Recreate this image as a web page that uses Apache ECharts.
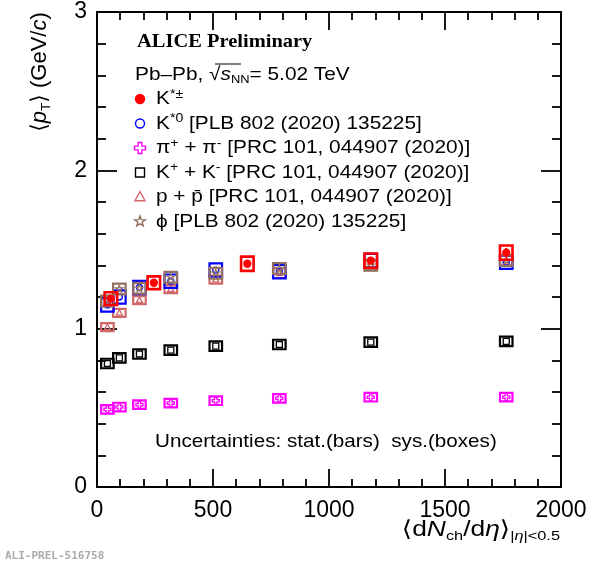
<!DOCTYPE html>
<html><head><meta charset="utf-8">
<script src="https://cdn.jsdelivr.net/npm/echarts/dist/echarts.min.js"></script>
<style>html,body{margin:0;padding:0;background:#fff}#c{width:604px;height:562px}</style>
</head><body><div id="c"></div>
<script>
// ---------------- data ----------------
const xTickValues = [0, 500, 1000, 1500, 2000];
const yTickValues = [0, 1, 2, 3];

const dNchPID = [44.9, 96.3, 183, 318, 512, 786, 1180, 1764];
const dNchKstarCh = [60, 245, 648, 1180, 1764];

const ptPion = [0.49, 0.505, 0.52, 0.53, 0.545, 0.56, 0.567, 0.568];
const sysPion = [0.027, 0.027, 0.027, 0.027, 0.027, 0.027, 0.027, 0.027];
const statPion = [0, 0, 0, 0, 0, 0, 0, 0];

const ptKaon = [0.78, 0.815, 0.84, 0.865, 0.89, 0.90, 0.915, 0.92];
const sysKaon = [0.03, 0.03, 0.03, 0.03, 0.03, 0.03, 0.03, 0.03];
const statKaon = [0, 0, 0, 0, 0, 0, 0, 0];

const ptProton = [1.01, 1.10, 1.18, 1.25, 1.31, 1.35, 1.40, 1.43];
const sysProton = [0.025, 0.025, 0.025, 0.025, 0.025, 0.03, 0.03, 0.03];
const statProton = [0, 0, 0, 0, 0, 0, 0, 0];

const ptKstar0 = [1.15, 1.20, 1.26, 1.30, 1.37, 1.36, 1.43, 1.42];
const sysKstar0 = [0.042, 0.042, 0.042, 0.042, 0.042, 0.042, 0.042, 0.042];
const statKstar0 = [0, 0, 0, 0, 0, 0, 0, 0];

const ptPhi = [1.175, 1.25, 1.255, 1.325, 1.35, 1.38, 1.40, 1.43];
const sysPhi = [0.034, 0.034, 0.034, 0.034, 0.034, 0.034, 0.034, 0.034];
const statPhi = [0, 0, 0, 0, 0, 0, 0, 0];

const ptKstarCh = [1.19, 1.29, 1.41, 1.43, 1.48];
const sysKstarCh = [0.04, 0.04, 0.045, 0.045, 0.045];
const statKstarCh = [0.01, 0.01, 0.012, 0.02, 0.03];

// ---------------- styling ----------------
const BOX_HW = 27; // half width of systematic boxes (x units)
const SANS = '"Liberation Sans", Arial, "DejaVu Sans", sans-serif';
const SERIF = '"Liberation Serif", "Times New Roman", serif';

function markerShape(kind, cx, cy, size, color, filled, lw) {
  const fill = filled ? color : 'none';
  const style = { fill: fill, stroke: color, lineWidth: lw };
  const h = size / 2;
  if (kind === 'circle') return { type: 'circle', shape: { cx, cy, r: h }, style };
  if (kind === 'square') return { type: 'rect', shape: { x: cx - h, y: cy - h, width: size, height: size }, style };
  if (kind === 'triangle') return { type: 'polygon', shape: { points: [[cx, cy - h * 1.1], [cx + h, cy + h * 0.75], [cx - h, cy + h * 0.75]] }, style };
  if (kind === 'cross') {
    const t = size / 6;
    return { type: 'polygon', shape: { points: [
      [cx - t, cy - h], [cx + t, cy - h], [cx + t, cy - t], [cx + h, cy - t], [cx + h, cy + t], [cx + t, cy + t],
      [cx + t, cy + h], [cx - t, cy + h], [cx - t, cy + t], [cx - h, cy + t], [cx - h, cy - t], [cx - t, cy - t]] }, style };
  }
  if (kind === 'star') {
    const pts = [];
    for (let k = 0; k < 10; k++) {
      const r = (k % 2 === 0) ? h * 1.1 : h * 0.45;
      const a = -Math.PI / 2 + k * Math.PI / 5;
      pts.push([cx + r * Math.cos(a), cy + r * Math.sin(a)]);
    }
    return { type: 'polygon', shape: { points: pts }, style };
  }
}

function makeSeries(name, xs, ys, sys, stat, color, kind, filled, mSize, boxLw) {
  return {
    type: 'custom', name: name, xAxisIndex: 0, yAxisIndex: 0,
    data: xs.map((x, i) => [x, ys[i], sys[i], stat[i]]),
    renderItem: function (params, api) {
      const x = api.value(0), y = api.value(1), s = api.value(2), st = api.value(3);
      const c = api.coord([x, y]);
      const top = api.coord([x, y + s])[1], bot = api.coord([x, y - s])[1];
      const left = api.coord([x - BOX_HW, y])[0], right = api.coord([x + BOX_HW, y])[0];
      const children = [{
        type: 'rect', shape: { x: left, y: top, width: right - left, height: bot - top },
        style: { fill: 'none', stroke: color, lineWidth: boxLw }
      }];
      if (st > 0) {
        const t2 = api.coord([x, y + st])[1], b2 = api.coord([x, y - st])[1];
        children.push({ type: 'line', shape: { x1: c[0], y1: t2, x2: c[0], y2: b2 }, style: { stroke: color, lineWidth: 2 } });
      }
      children.push(markerShape(kind, c[0], c[1], mSize, color, filled, 1.3));
      return { type: 'group', children: children };
    }
  };
}

const C_PION = '#ff00ff', C_KAON = '#000000', C_PROTON = '#d06868', C_KST0 = '#0000ff', C_PHI = '#93705f', C_KSTCH = '#ff0000';

const series = [
  makeSeries('pi', dNchPID, ptPion, sysPion, statPion, C_PION, 'cross', false, 7, 2.2),
  makeSeries('K', dNchPID, ptKaon, sysKaon, statKaon, C_KAON, 'square', false, 6, 2.2),
  makeSeries('p', dNchPID, ptProton, sysProton, statProton, C_PROTON, 'triangle', false, 6, 2.2),
  makeSeries('Kst0', dNchPID, ptKstar0, sysKstar0, statKstar0, C_KST0, 'circle', false, 6, 2.2),
  makeSeries('phi', dNchPID, ptPhi, sysPhi, statPhi, C_PHI, 'star', false, 7, 2.2),
  makeSeries('Kstch', dNchKstarCh, ptKstarCh, sysKstarCh, statKstarCh, C_KSTCH, 'circle', true, 7, 2.6)
];

function axisCommon(pos, showLabel, isX) {
  const o = {
    type: 'value', position: pos,
    min: isX ? xTickValues[0] : yTickValues[0],
    max: isX ? xTickValues[xTickValues.length - 1] : yTickValues[yTickValues.length - 1],
    interval: isX ? xTickValues[1] - xTickValues[0] : yTickValues[1] - yTickValues[0],
    axisLine: { show: true, onZero: false, lineStyle: { color: '#000', width: 2 } },
    axisTick: { show: true, inside: true, length: isX ? 18 : 20, lineStyle: { color: '#000', width: 1.8 } },
    minorTick: { show: true, splitNumber: 5, length: isX ? 8 : 9, lineStyle: { color: '#000', width: 1.8 } },
    splitLine: { show: false }, minorSplitLine: { show: false },
    axisLabel: { show: showLabel, color: '#000', fontSize: 23, fontFamily: SANS, margin: isX ? 12 : 10,
      formatter: function (v) { return String(v); } }
  };
  return o;
}

const richSans = (fs) => ({
  n: { fontSize: fs, fontFamily: SANS, color: '#000', lineHeight: fs * 1.2 },
  i: { fontSize: fs, fontFamily: SANS, fontStyle: 'italic', color: '#000', lineHeight: fs * 1.2 },
  sup: { fontSize: fs * 0.68, fontFamily: SANS, color: '#000', verticalAlign: 'top', lineHeight: fs * 0.62 },
  sub: { fontSize: fs * 0.62, fontFamily: SANS, color: '#000', verticalAlign: 'bottom', lineHeight: fs * 0.75 },
  subi: { fontSize: fs * 0.62, fontFamily: SANS, fontStyle: 'italic', color: '#000', verticalAlign: 'bottom', lineHeight: fs * 0.75 }
});

const LEG_FS = 18.6, LEG_SX = 1.12;
const legendRows = [
  { kind: 'circle', color: C_KSTCH, filled: true, size: 9, text: '{n|K}{sup|*±}' },
  { kind: 'circle', color: C_KST0, filled: false, size: 9, text: '{n|K}{sup|*0}{n| [PLB 802 (2020) 135225]}' },
  { kind: 'cross', color: C_PION, filled: false, size: 11, text: '{n|π}{sup|+}{n| + π}{sup|-}{n| [PRC 101, 044907 (2020)]}' },
  { kind: 'square', color: C_KAON, filled: false, size: 9, text: '{n|K}{sup|+}{n| + K}{sup|-}{n| [PRC 101, 044907 (2020)]}' },
  { kind: 'triangle', color: C_PROTON, filled: false, size: 10, text: '{n|p + p̄ [PRC 101, 044907 (2020)]}' },
  { kind: 'star', color: C_PHI, filled: false, size: 10, text: '{n|ϕ [PLB 802 (2020) 135225]}' }
];

const graphics = [];
graphics.push({ type: 'text', x: 137, y: 42, scaleX: 1.05,
  style: { text: 'ALICE Preliminary', font: 'bold 19.5px ' + SERIF, fill: '#000', verticalAlign: 'middle' } });
graphics.push({ type: 'text', x: 135, y: 75, scaleX: LEG_SX,
  style: { text: '{n|Pb–Pb, √}{i|s}{sub|NN}{n|= 5.02 TeV}', rich: richSans(LEG_FS), verticalAlign: 'middle' } });
graphics.push({ type: 'line', shape: { x1: 215, y1: 64, x2: 241, y2: 64 }, style: { stroke: '#000', lineWidth: 1 } });
legendRows.forEach((r, k) => {
  const cy = 99 + k * 24.5;
  graphics.push(markerShape(r.kind, 140, cy, r.size, r.color, r.filled, 1.4));
  graphics.push({ type: 'text', x: 156, y: cy, scaleX: LEG_SX,
    style: { text: r.text, rich: richSans(LEG_FS), verticalAlign: 'middle' } });
});
graphics.push({ type: 'text', x: 155, y: 442, scaleX: 1.11,
  style: { text: 'Uncertainties: stat.(bars)  sys.(boxes)', font: '18.6px ' + SANS, fill: '#000', verticalAlign: 'middle' } });
// y axis title
graphics.push({ type: 'text', x: 40, y: 72, rotation: Math.PI / 2,
  style: { text: '{n|⟨}{i|p}{sub|T}{n|⟩ (GeV/}{i|c}{n|)}', rich: richSans(22), align: 'center', verticalAlign: 'middle' } });
// x axis title
graphics.push({ type: 'text', x: 560, y: 530, scaleX: 1.2,
  style: { text: '{n|⟨d}{i|N}{sub|ch}{n|/d}{i|η}{n|⟩}{sub||}{subi|η}{sub||<0.5}', rich: richSans(22), align: 'right', verticalAlign: 'middle' } });
graphics.push({ type: 'text', x: 5, y: 556,
  style: { text: 'ALI-PREL-516758', font: 'bold 11px "DejaVu Sans Mono", monospace', fill: '#aaa', verticalAlign: 'middle' } });

const chart = echarts.init(document.getElementById('c'), null, { renderer: 'canvas' });
chart.setOption({
  animation: false,
  backgroundColor: '#fff',
  grid: { left: 97, top: 12, width: 464, height: 475, containLabel: false },
  xAxis: [axisCommon('bottom', true, true), axisCommon('top', false, true)],
  yAxis: [axisCommon('left', true, false), axisCommon('right', false, false)],
  series: series,
  graphic: { elements: graphics }
});
</script></body></html>
